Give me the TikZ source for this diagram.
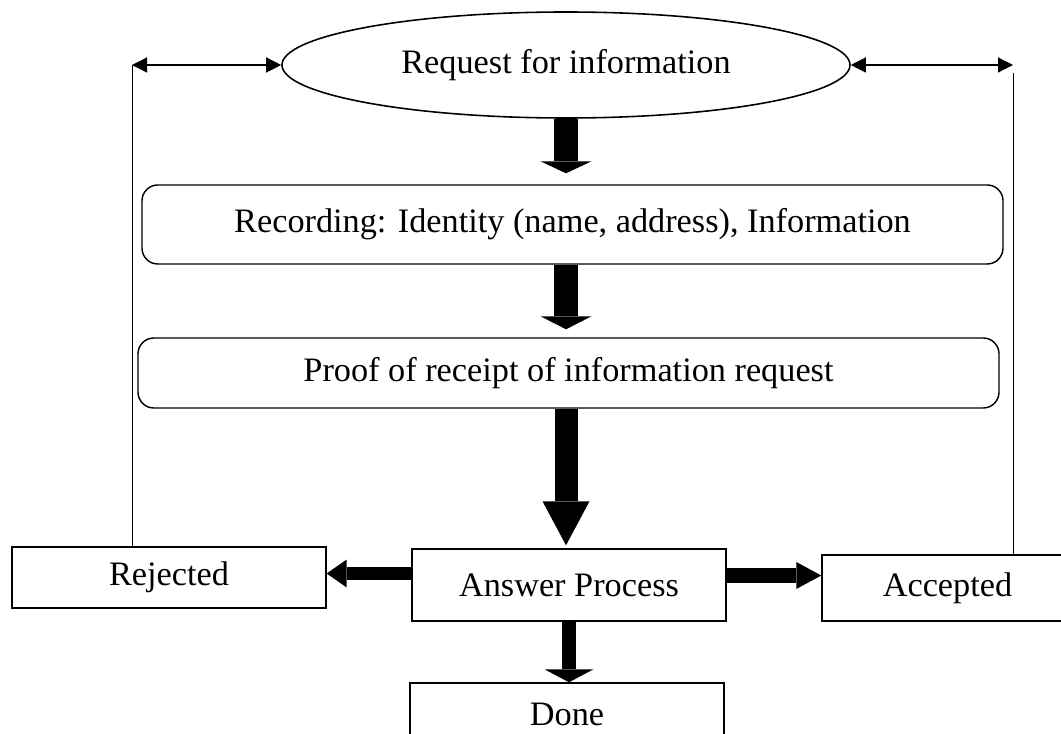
\documentclass[tikz,border=0pt]{standalone}
\usepackage{fontspec}
\setmainfont{Liberation Serif}
\usetikzlibrary{arrows.meta,shapes.geometric}

\begin{document}
\begin{tikzpicture}[
	every node/.style={font=\fontsize{19.5}{23}\selectfont},
	box/.style={draw, line width=0.8pt, inner sep=0pt, minimum width=6.28cm, minimum height=1.44cm},
	rbox/.style={box, rounded corners=9pt, minimum width=17.22cm},
	fat/.style n args={3}{line width=#1, -{Triangle[width=#2, length=#3, line width=0pt]}},
	thinarrow/.style={line width=0.7pt, {Triangle[length=0.3cm, width=0.3cm]}-{Triangle[length=0.3cm, width=0.3cm]}}
	]
	\clip (0,0) rectangle (21.22,14.66);
	
	% Anfrage
	\node[draw, ellipse, line width=0.9pt, inner sep=0pt, minimum width=11.36cm, minimum height=2.12cm] (req) at (11.32,13.36) {Request for information};
	
	% Erfassung
	\node[rbox, minimum height=1.58cm] (rec) at (11.45,10.17) {Recording: Identity (name, address), Information};
	\node[rbox, minimum height=1.40cm] (proof) at (11.37,7.20) {Proof of receipt of information request};
	
	% Bearbeitung
	\node[box] (ans) at (11.38,2.96) {Answer Process};
	\node[box, minimum height=1.22cm] (rej) at (3.38,3.11) {Rejected};
	\node[box, minimum width=5.02cm, minimum height=1.32cm] (acc) at (18.95,2.90) {Accepted};
	\node[box, minimum height=1.24cm] (done) at (11.34,0.38) {Done};
	
	% dicke Pfeile
	\draw[fat={0.48cm}{1.02cm}{0.24cm}, shorten >=0.22cm] (req.south) -- (req.south |- rec.north);
	\draw[fat={0.48cm}{1.02cm}{0.26cm}, shorten >=0.16cm] (req.south |- rec.south) -- (req.south |- proof.north);
	\draw[fat={0.46cm}{0.94cm}{0.88cm}, shorten >=0.06cm] (req.south |- proof.south) -- (req.south |- ans.north);
	\draw[fat={0.28cm}{0.98cm}{0.26cm}] (ans.south) -- (ans.south |- done.north);
	\draw[fat={0.26cm}{0.56cm}{0.40cm}] ([yshift=0.23cm]ans.west) -- ([yshift=0.23cm]ans.west -| rej.east);
	\draw[fat={0.30cm}{0.54cm}{0.50cm}] ([yshift=0.19cm]ans.east) -- ([yshift=0.19cm]ans.east -| acc.west);
	
	% Rueckkopplung links und rechts
	\coordinate (lo) at (2.64,13.36);
	\coordinate (ro) at (20.26,13.36);
	\draw[line width=0.55pt] (lo) -- (lo |- rej.north);
	\draw[thinarrow] (lo) -- (req.west);
	\draw[line width=0.55pt] ([yshift=-0.16cm]ro) -- (ro |- acc.north);
	\draw[thinarrow] (req.east) -- (ro);
	
\end{tikzpicture}
\end{document}
